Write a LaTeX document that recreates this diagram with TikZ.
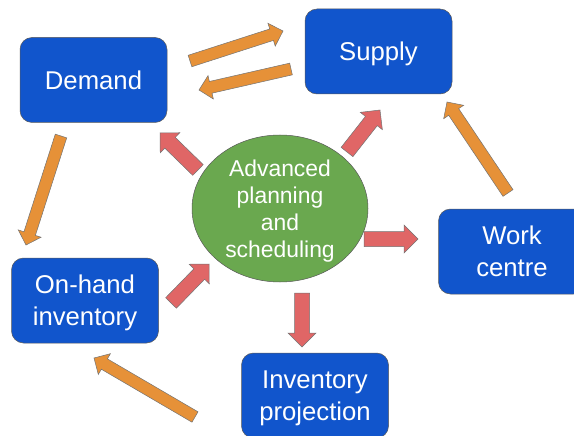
\documentclass[tikz,border=0pt]{standalone}
\usepackage{fontspec}
\setmainfont{Liberation Sans}
\usetikzlibrary{calc,shapes.geometric}
\definecolor{boxblue}{HTML}{1155CC}
\definecolor{aplgreen}{HTML}{6AA84F}
\definecolor{floworange}{HTML}{E69138}
\definecolor{flowred}{HTML}{E06666}

\begin{document}
\begin{tikzpicture}[x=1pt,y=-1pt]
\tikzset{
  unit/.style={draw=black!65, line width=0.5pt, fill=boxblue, rounded corners=12pt,
    minimum width=147pt, minimum height=85pt, inner sep=0pt, align=center,
    text depth=0pt, text=white, font=\fontsize{25.7}{32}\selectfont},
  core/.style={ellipse, draw=black!65, line width=0.5pt, fill=aplgreen,
    minimum width=176pt, minimum height=147pt, inner sep=0pt, align=center,
    text depth=0pt, text=white, font=\fontsize{22.9}{27}\selectfont},
  orangeflow/.style={fill=floworange, draw=black!55, line width=0.5pt},
  redflow/.style={fill=flowred, draw=black!55, line width=0.5pt}
}
\useasboundingbox (0,0) rectangle (574,436);
\clip (0,0) rectangle (574,436);
% boxes
\node [unit] (demand) at (93.5,80) {Demand};
\node [unit] (supply) at (378.5,51.5) {Supply};
\node [unit] (workc) at (512,251.5) {Work\\centre};
\node [unit] (onhand) at (85,300.5) {On-hand\\inventory};
\node [unit] (invproj) at (315,395.5) {Inventory\\projection};
\node [core] (aps) at (280,208.5) {Advanced\\planning\\and\\scheduling};
% arrow ends
\coordinate (ds1) at (190,61);  \coordinate (ds2) at (283,31);
\coordinate (sd1) at (291,69);  \coordinate (sd2) at (199,90);
\coordinate (dh1) at (61,136);  \coordinate (dh2) at (26,245);
\coordinate (ws1) at (508,193); \coordinate (ws2) at (447,102);
\coordinate (ih1) at (195,417); \coordinate (ih2) at (94,358);
\coordinate (ad1) at (198,170); \coordinate (ad2) at (160,133);
\coordinate (as1) at (347,152); \coordinate (as2) at (380,110);
\coordinate (aw1) at (364,239); \coordinate (aw2) at (418,239);
\coordinate (ai1) at (302,293); \coordinate (ai2) at (302,347);
\coordinate (ha1) at (171,303); \coordinate (ha2) at (209,264);
% block arrows
\foreach \s/\t/\f/\w/\h in {ds1/ds2/orangeflow/6pt/12pt, sd1/sd2/orangeflow/6pt/12pt,
    dh1/dh2/orangeflow/6pt/12pt, ws1/ws2/orangeflow/6pt/12pt, ih1/ih2/orangeflow/6pt/12pt,
    ad1/ad2/redflow/7.5pt/14pt, as1/as2/redflow/7.5pt/14pt, aw1/aw2/redflow/7.5pt/14pt,
    ai1/ai2/redflow/7.5pt/14pt, ha1/ha2/redflow/7.5pt/14pt}{
  \path ($(\t)!\h!(\s)$) coordinate (neck);
  \draw [\f] ($(\s)!\w!90:(\t)$) -- ($(neck)!\w!90:(\t)$) -- ($(neck)!\h!90:(\t)$) -- (\t)
    -- ($(neck)!\h!-90:(\t)$) -- ($(neck)!\w!-90:(\t)$) -- ($(\s)!\w!-90:(\t)$) -- cycle;
}
\end{tikzpicture}
\end{document}
